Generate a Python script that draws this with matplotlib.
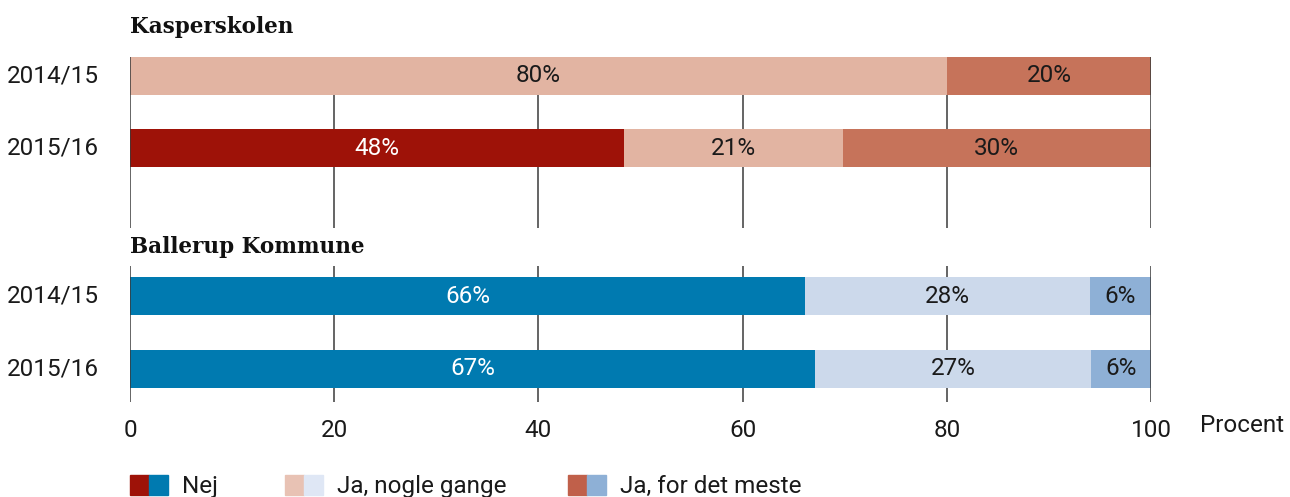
import matplotlib.pyplot as plt
from matplotlib.patches import Rectangle

# data
groups = ['Kasperskolen', 'Ballerup Kommune']
years = ['2014/15', '2015/16']
answers = ['Nej', 'Ja, nogle gange', 'Ja, for det meste']
kasper = [[0, 80, 20], [48.4, 21.4, 30.2]]
ballerup = [[66.1, 27.9, 6.0], [67.1, 27.0, 5.9]]

colors = {
    'Kasperskolen': ['#9E1208', '#E2B4A2', '#C6735A'],
    'Ballerup Kommune': ['#007AB0', '#CCD9EB', '#8EB0D6'],
}
legend_colors = [('#9E1208', '#007AB0'), ('#E8C2B4', '#DFE7F5'), ('#C0604A', '#8EB0D6')]
text_colors = ['white', '#1a1a1a', '#1a1a1a']

body_font = ['Roboto', 'DejaVu Sans']
title_font = ['DejaVu Serif']
fs = 17.5

W, H = 1290, 497
fig = plt.figure(figsize=(W / 100, H / 100), dpi=100)
ax = fig.add_axes([130 / W, 1 - 402 / H, (1151 - 130) / W, (402 - 57) / H])

group_gap = 3.04
bar_h = 0.52
ax.set_xlim(0, 100)
ax.set_ylim(4.5, -0.26)

for g, (name, data) in enumerate(zip(groups, [kasper, ballerup])):
    for r, row in enumerate(data):
        y = g * group_gap + r
        left = 0
        for k, v in enumerate(row):
            if v > 0:
                ax.barh(y, v, left=left, height=bar_h, color=colors[name][k], zorder=2)
                ax.text(left + v / 2, y, f'{round(v)}%', ha='center', va='center',
                        fontsize=fs, color=text_colors[k], family=body_font, zorder=4)
            left += v
        ax.text(-3, y, years[r], ha='right', va='center', fontsize=fs,
                family=body_font, color='#1a1a1a', clip_on=False)
    ax.text(0, g * group_gap - 0.68, name, ha='left', va='center', fontsize=15.5,
            fontweight='bold', family=title_font, color='#111111', clip_on=False)

# gridlines, broken where the second group title sits
for x in range(0, 101, 20):
    z = 3 if x in (0, 100) else 1
    ax.vlines(x, -0.26, 2.10, color='#3a3a3a', lw=1.1, zorder=z)
    ax.vlines(x, 2.63, 4.5, color='#3a3a3a', lw=1.1, zorder=z)

for s in ax.spines.values():
    s.set_visible(False)
ax.set_yticks([])
ax.set_xticks(range(0, 101, 20))
ax.tick_params(axis='x', length=0, pad=12, labelsize=fs, labelcolor='#1a1a1a')
for lab in ax.get_xticklabels():
    lab.set_family(body_font)
fig.text(1200 / W, 1 - 426 / H, 'Procent', ha='left', va='center', fontsize=fs,
         family=body_font, color='#1a1a1a')

# legend
leg_x = [130, 285, 568]
for (c1, c2), lx, label in zip(legend_colors, leg_x, answers):
    for i, c in enumerate([c1, c2]):
        fig.patches.append(Rectangle(((lx + i * 19) / W, 1 - 495 / H), 19 / W, 20 / H,
                                     transform=fig.transFigure, color=c))
    fig.text((lx + 52) / W, 1 - 486 / H, label, ha='left', va='center', fontsize=fs,
             family=body_font, color='#1a1a1a')

fig.savefig('out.png', dpi=100)
